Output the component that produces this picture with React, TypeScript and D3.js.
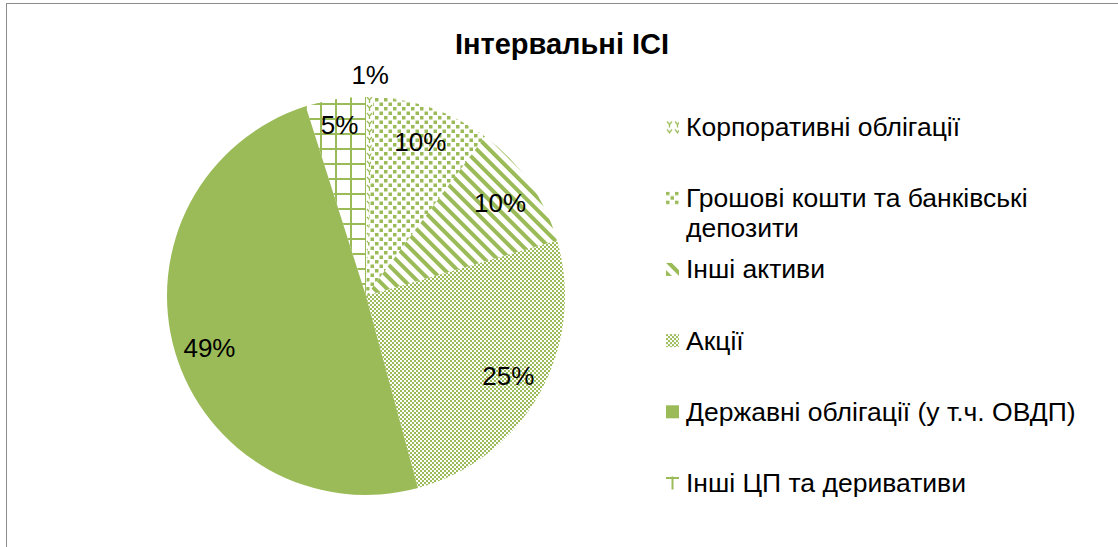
import React from "react";
import * as d3 from "d3";

const categories = [
  "Корпоративні облігації",
  "Грошові кошти та банківські депозити",
  "Інші активи",
  "Акції",
  "Державні облігації (у т.ч. ОВДП)",
  "Інші ЦП та деривативи",
];
const values = [0.6, 9.6, 10.3, 25.3, 49.3, 4.9];
const legendLines = [
  ["Корпоративні облігації"],
  ["Грошові кошти та банківські", "депозити"],
  ["Інші активи"],
  ["Акції"],
  ["Державні облігації (у т.ч. ОВДП)"],
  ["Інші ЦП та деривативи"],
];
const patternIds = ["pWave", "pDots", "pStripes", "pChecker", "pSolid", "pGrid"];
const title = "Інтервальні ІСІ";

const W = 1118;
const H = 547;
const GREEN = "#9bbb59";
const FONT = "'Liberation Sans', Arial, sans-serif";

function Patterns({ suffix, gx, gy }: { suffix: string; gx: number; gy: number }) {
  return (
    <>
      <pattern id={"pWave" + suffix} width={8} height={8} patternUnits="userSpaceOnUse">
        <path d="M1,1 L3.5,4 L6,1 M3.5,4 L3.5,7" stroke={GREEN} strokeWidth={1.3} fill="none" />
      </pattern>
      <pattern id={"pDots" + suffix} width={9} height={9} patternUnits="userSpaceOnUse">
        <rect x={0} y={0} width={3.5} height={3.5} fill={GREEN} />
        <rect x={4.5} y={4.5} width={3.5} height={3.5} fill={GREEN} />
      </pattern>
      <pattern
        id={"pStripes" + suffix}
        width={9}
        height={9}
        patternUnits="userSpaceOnUse"
        patternTransform="rotate(-45)"
      >
        <rect x={0} y={0} width={4} height={9} fill={GREEN} />
      </pattern>
      <pattern id={"pChecker" + suffix} width={4} height={4} patternUnits="userSpaceOnUse">
        <rect x={0} y={0} width={2} height={2} fill={GREEN} />
        <rect x={2} y={2} width={2} height={2} fill={GREEN} />
      </pattern>
      <pattern id={"pGrid" + suffix} width={15} height={15} patternUnits="userSpaceOnUse" x={gx} y={gy}>
        <rect x={0} y={0} width={2} height={15} fill={GREEN} />
        <rect x={0} y={0} width={15} height={2} fill={GREEN} />
      </pattern>
    </>
  );
}

export default function App() {
  const cx = 366;
  const cy = 296;
  const R = 199;

  const pie = d3
    .pie<number>()
    .sort(null)
    .value((d) => d)
    .startAngle(0)
    .endAngle(2 * Math.PI);
  const arcs = pie(values);
  const arc = d3.arc<d3.PieArcDatum<number>>().innerRadius(0).outerRadius(R);
  const total = d3.sum(values);

  const legendY = d3
    .scalePoint<string>()
    .domain(categories)
    .range([127, 483]);

  const fillOf = (i: number, suffix: string) =>
    patternIds[i] === "pSolid" ? GREEN : `url(#${patternIds[i]}${suffix})`;

  return (
    <svg
      width={W}
      height={H}
      style={{ position: "absolute", left: 0, top: 0, background: "#fff" }}
      fontFamily={FONT}
    >
      <defs>
        <Patterns suffix="" gx={-1} gy={2} />
        <Patterns suffix="L" gx={5.5} gy={0.5} />
      </defs>

      <rect x={6.5} y={3.5} width={W} height={H} fill="#fff" stroke="#8c8c8c" strokeWidth={1} />

      <text
        x={562}
        y={44}
        textAnchor="middle"
        dominantBaseline="central"
        fontSize={29}
        fontWeight="bold"
      >
        {title}
      </text>

      <g transform={`translate(${cx},${cy})`}>
        {arcs.map((a, i) => (
          <path key={categories[i]} d={arc(a) || ""} fill={fillOf(i, "")} />
        ))}
        {arcs.map((a, i) => {
          const share = a.value / total;
          const lr = share < 0.02 ? R + 22 : share < 0.07 ? R * 0.87 : R * 0.82;
          const [lx, ly] = d3
            .arc<d3.PieArcDatum<number>>()
            .innerRadius(lr)
            .outerRadius(lr)
            .centroid(a);
          return (
            <text
              key={"l" + i}
              x={lx}
              y={ly + (share > 0.4 ? 6 : 0)}
              textAnchor="middle"
              dominantBaseline="central"
              fontSize={26}
              fill="#000"
            >
              {d3.format(".0%")(share)}
            </text>
          );
        })}
      </g>

      <g>
        {categories.map((c, i) => {
          const y = legendY(c) || 0;
          return (
            <g key={c} transform={`translate(666,${y})`}>
              <g transform="translate(0,-6.5)">
                <rect x={0} y={0} width={13} height={13} fill={fillOf(i, "L")} />
              </g>
              {legendLines[i].map((ln, k) => (
                <text
                  key={k}
                  x={20}
                  y={k * 30}
                  dominantBaseline="central"
                  fontSize={26.5}
                  fill="#000"
                >
                  {ln}
                </text>
              ))}
            </g>
          );
        })}
      </g>
    </svg>
  );
}
